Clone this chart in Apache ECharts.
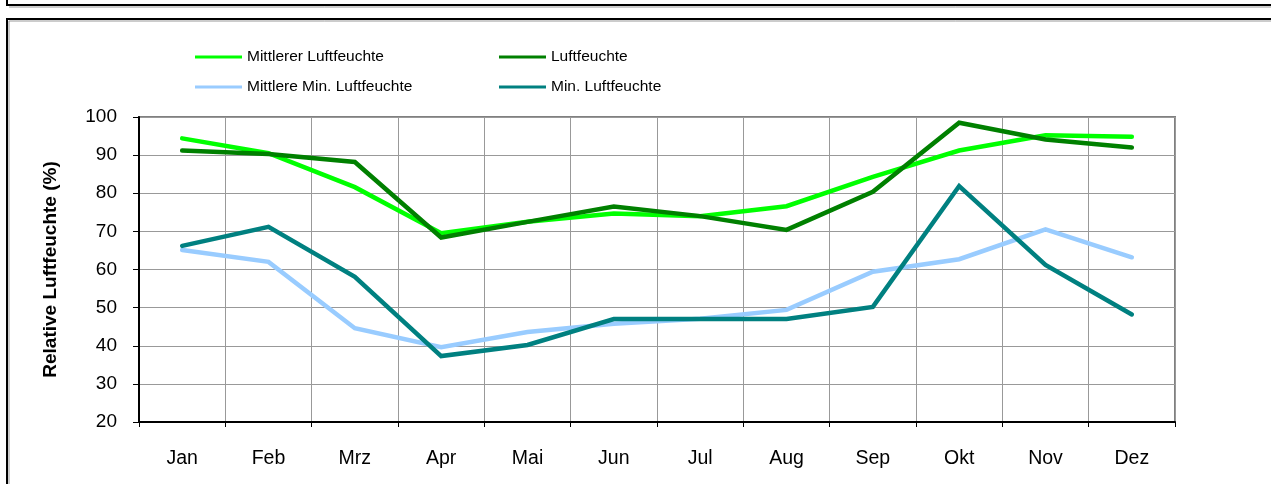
<!DOCTYPE html>
<html>
<head>
<meta charset="utf-8">
<script src="https://cdn.jsdelivr.net/npm/echarts@6/dist/echarts.min.js"></script>
<style>
html,body{margin:0;padding:0;background:#fff;}
#c{width:1271px;height:484px;}
</style>
</head>
<body>
<div id="c"></div>
<script>
var months = ['Jan','Feb','Mrz','Apr','Mai','Jun','Jul','Aug','Sep','Okt','Nov','Dez'];
var mittlererLuftfeuchte = [94.4, 90.5, 81.6, 69.5, 72.5, 74.7, 74.0, 76.6, 84.3, 91.2, 95.2, 94.8];
var luftfeuchte = [91.2, 90.3, 88.2, 68.4, 72.5, 76.5, 74.0, 70.4, 80.4, 98.5, 94.1, 92.0];
var mittlereMinLuftfeuchte = [65.1, 62.0, 44.6, 39.6, 43.6, 45.8, 47.1, 49.4, 59.4, 62.7, 70.5, 63.2];
var minLuftfeuchte = [66.2, 71.2, 58.1, 37.3, 40.2, 47.0, 47.0, 47.0, 50.2, 81.9, 61.2, 48.2];
var yTicks = [20, 30, 40, 50, 60, 70, 80, 90, 100];

var FONT = '"Liberation Sans", Arial, sans-serif';
var chart = echarts.init(document.getElementById('c'), null, {renderer:'canvas'});

function line(name, data, color, z) {
  return {
    name: name, type: 'line', data: data, showSymbol: false, symbol: 'none',
    z: z, animation: false,
    lineStyle: {color: color, width: 4.5, cap: 'round', join: 'miter'},
    itemStyle: {color: color}
  };
}

chart.setOption({
  animation: false,
  backgroundColor: '#fff',
  textStyle: {fontFamily: FONT},
  graphic: [
    {type:'polyline', shape:{points:[[7,0],[7,5],[1271,5]]}, style:{stroke:'#000', lineWidth:2, fill:null}},
    {type:'line', shape:{x1:9,y1:7,x2:1271,y2:7}, style:{stroke:'#999', lineWidth:1}},
    {type:'polyline', shape:{points:[[7,484],[7,19],[1271,19]]}, style:{stroke:'#000', lineWidth:2, fill:null}},
    {type:'line', shape:{x1:9,y1:21,x2:1271,y2:21}, style:{stroke:'#999', lineWidth:1}},
    {type:'line', shape:{x1:9,y1:21,x2:9,y2:484}, style:{stroke:'#999', lineWidth:1}}
  ],
  legend: [
    {
      left: 195, top: 49, orient: 'vertical', itemGap: 14, padding: 0,
      itemWidth: 47, itemHeight: 3, icon: 'rect',
      data: ['Mittlerer Luftfeuchte', 'Mittlere Min. Luftfeuchte'],
      textStyle: {fontSize: 15.5, color: '#000', fontFamily: FONT}
    },
    {
      left: 499, top: 49, orient: 'vertical', itemGap: 14, padding: 0,
      itemWidth: 47, itemHeight: 3, icon: 'rect',
      data: ['Luftfeuchte', 'Min. Luftfeuchte'],
      textStyle: {fontSize: 15.5, color: '#000', fontFamily: FONT}
    }
  ],
  grid: {
    left: 139, top: 117, right: 96, bottom: 62,
    show: true, borderColor: '#808080', borderWidth: 2, backgroundColor: 'transparent'
  },
  xAxis: {
    type: 'category', data: months, boundaryGap: true,
    axisLine: {show: true, lineStyle: {color: '#000', width: 2}},
    axisTick: {show: true, inside: false, length: 5, lineStyle: {color: '#000', width: 1}, alignWithLabel: false},
    axisLabel: {fontSize: 19.5, color: '#000', margin: 27, fontFamily: FONT},
    splitLine: {show: true, lineStyle: {color: '#999', width: 1}}
  },
  yAxis: {
    type: 'value', min: yTicks[0], max: yTicks[yTicks.length-1], interval: 10,
    name: 'Relative Luftfeuchte (%)', nameLocation: 'middle', nameGap: 79,
    nameTextStyle: {fontSize: 19, fontWeight: 'bold', color: '#000', fontFamily: FONT},
    axisLine: {show: true, lineStyle: {color: '#000', width: 2}},
    axisTick: {show: true, inside: false, length: 6, lineStyle: {color: '#000', width: 1}},
    axisLabel: {fontSize: 19, color: '#000', margin: 22, fontFamily: FONT},
    splitLine: {show: true, lineStyle: {color: '#999', width: 1}}
  },
  series: [
    line('Mittlerer Luftfeuchte', mittlererLuftfeuchte, '#00FF00', 2),
    line('Mittlere Min. Luftfeuchte', mittlereMinLuftfeuchte, '#99CCFF', 2),
    line('Luftfeuchte', luftfeuchte, '#008000', 3),
    line('Min. Luftfeuchte', minLuftfeuchte, '#008080', 3)
  ]
});
</script>
</body>
</html>
